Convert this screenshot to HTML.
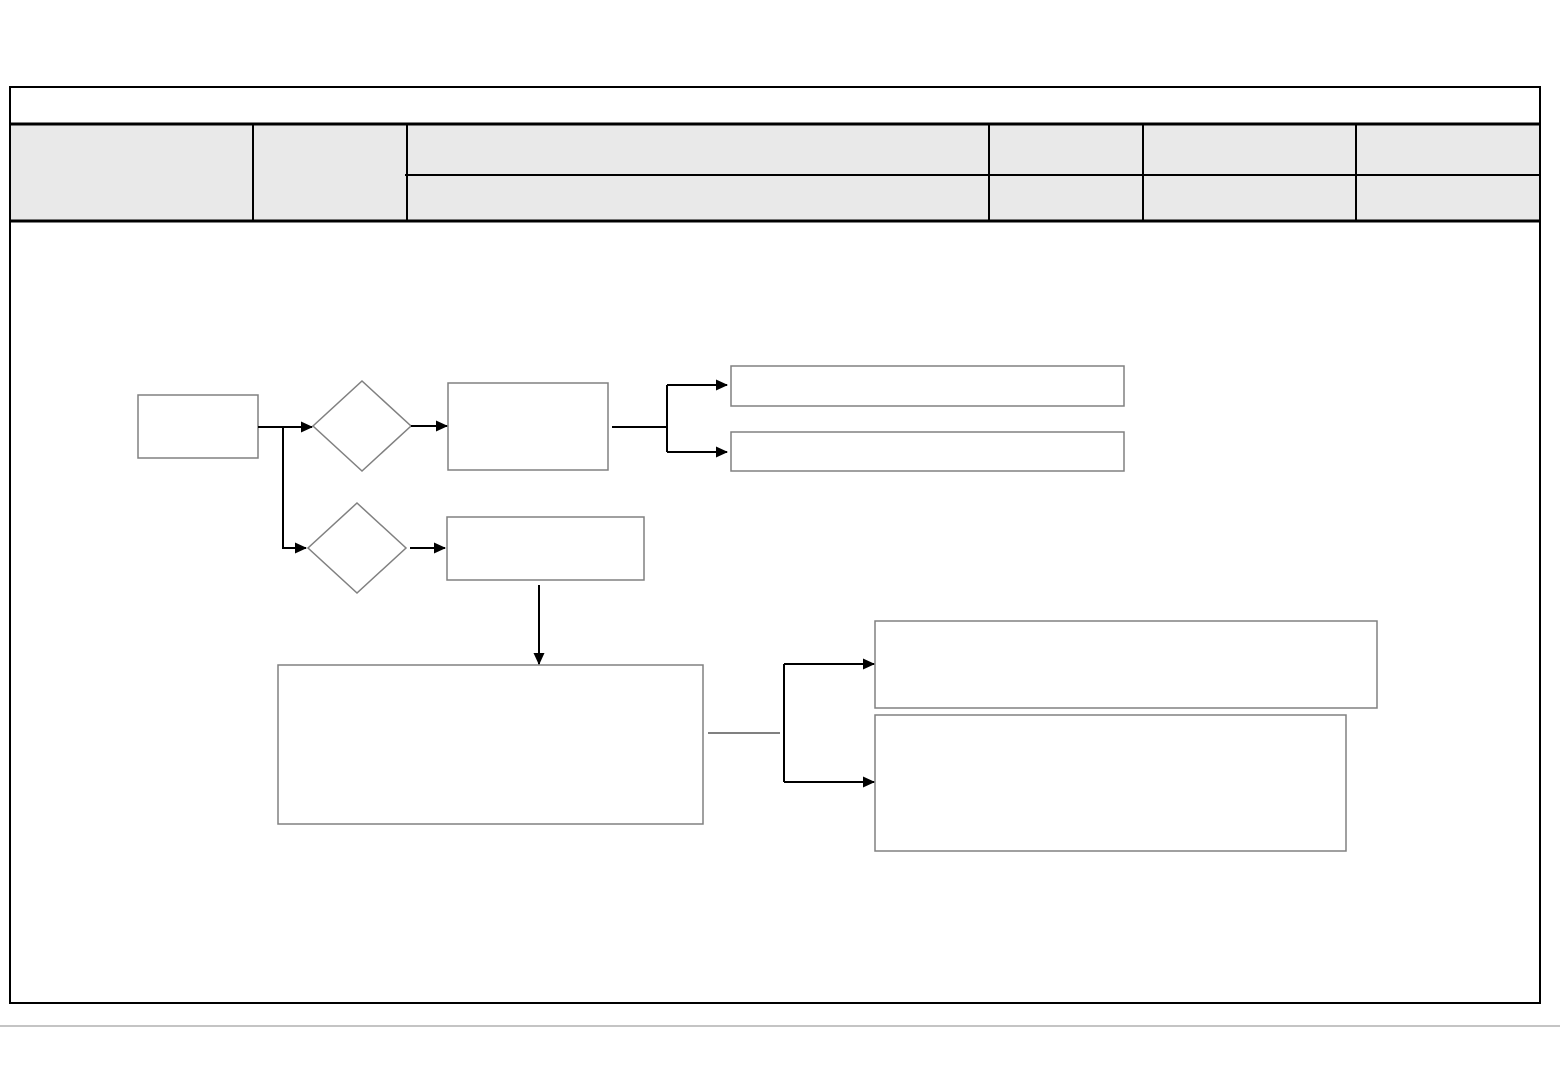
<!DOCTYPE html>
<html><head><meta charset="utf-8"><style>html,body{margin:0;padding:0;background:#fff}svg{display:block}</style></head>
<body>
<svg width="1560" height="1080" viewBox="0 0 1560 1080" xmlns="http://www.w3.org/2000/svg">
<defs><marker id="a" markerWidth="12" markerHeight="12" refX="11" refY="5.5" orient="auto" markerUnits="userSpaceOnUse"><path d="M0,0 L12,5.5 L0,11 z" fill="#000"/></marker></defs>
<rect x="11" y="124" width="1529" height="97" fill="#e9e9e9"/>
<rect x="10" y="87" width="1530" height="916" fill="none" stroke="#000" stroke-width="2"/>
<line x1="10" y1="124" x2="1540" y2="124" stroke="#000" stroke-width="3"/>
<line x1="10" y1="221" x2="1540" y2="221" stroke="#000" stroke-width="3"/>
<line x1="405" y1="175" x2="1540" y2="175" stroke="#000" stroke-width="2"/>
<g stroke="#000" stroke-width="2">
<line x1="253" y1="125" x2="253" y2="220"/><line x1="407" y1="125" x2="407" y2="220"/>
<line x1="989" y1="125" x2="989" y2="220"/><line x1="1143" y1="125" x2="1143" y2="220"/>
<line x1="1356" y1="125" x2="1356" y2="220"/>
</g>
<line x1="0" y1="1026" x2="1560" y2="1026" stroke="#888" stroke-width="1"/>
<g fill="none" stroke="#808080" stroke-width="1.5">
<rect x="138" y="395" width="120" height="63"/>
<path d="M362,381 L411,426 L362,471 L313,426 Z"/>
<rect x="448" y="383" width="160" height="87"/>
<rect x="731" y="366" width="393" height="40"/>
<rect x="731" y="432" width="393" height="39"/>
<path d="M357,503 L406,548 L357,593 L308,548 Z"/>
<rect x="447" y="517" width="197" height="63"/>
<rect x="278" y="665" width="425" height="159"/>
<rect x="875" y="621" width="502" height="87"/>
<rect x="875" y="715" width="471" height="136"/>
</g>
<g stroke="#000" stroke-width="2" fill="none">
<line x1="258" y1="427" x2="312" y2="427" marker-end="url(#a)"/>
<polyline points="283,427 283,548 306,548" marker-end="url(#a)"/>
<line x1="411" y1="426" x2="447" y2="426" marker-end="url(#a)"/>
<line x1="410" y1="548" x2="445" y2="548" marker-end="url(#a)"/>
<line x1="612" y1="427" x2="667" y2="427"/>
<polyline points="667,385 667,452"/>
<line x1="667" y1="385" x2="727" y2="385" marker-end="url(#a)"/>
<line x1="667" y1="452" x2="727" y2="452" marker-end="url(#a)"/>
<line x1="539" y1="585" x2="539" y2="664" marker-end="url(#a)"/>
<line x1="708" y1="733" x2="780" y2="733" stroke-width="1"/>
<polyline points="784,664 784,782"/>
<line x1="784" y1="664" x2="874" y2="664" marker-end="url(#a)"/>
<line x1="784" y1="782" x2="874" y2="782" marker-end="url(#a)"/>
</g>
</svg>
</body></html>
